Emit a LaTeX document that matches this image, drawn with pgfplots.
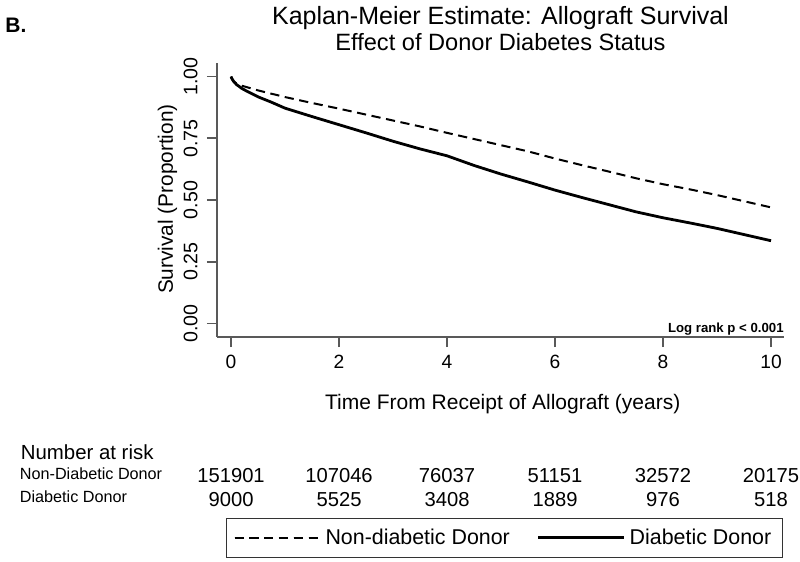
\documentclass[border=0pt]{standalone}
\usepackage{fontspec}
\setmainfont{Liberation Sans}
\usepackage{pgfplots}
\pgfplotsset{compat=1.18}
\begin{document}
\begin{tikzpicture}
\useasboundingbox (-108.5pt,-112.5pt) rectangle (291.5pt,168.5pt);
\begin{axis}[
  at={(0,0)}, anchor=south west,
  scale only axis, width=283.5pt, height=137pt,
  xmin=-0.26, xmax=10.24, ymin=-0.055, ymax=1.055,
  axis x line*=bottom, axis y line*=left,
  axis line style={draw=black!65, line width=0.85pt, -},
  every tick/.style={draw=black!65, line width=0.85pt},
  tick align=outside, major tick length=5pt,
  xtick={0,2,4,6,8,10}, ytick={0,0.25,0.5,0.75,1},
  yticklabels={0.00,0.25,0.50,0.75,1.00},
  /pgf/number format/assume math mode=true,
  xticklabel style={font=\fontsize{9.6}{11}\selectfont, anchor=north, inner sep=4pt},
  yticklabel style={font=\fontsize{9.8}{11}\selectfont, rotate=90, anchor=south, inner sep=4.5pt},
  clip=false,
  xlabel={Time From Receipt of Allograft (years)},
  xlabel style={at={(axis description cs:0.504,-0.266)}, anchor=base, font=\fontsize{10.5}{12}\selectfont},
  ylabel={Survival (Proportion)},
  ylabel style={at={(axis description cs:-0.0776,0.503)}, anchor=base, rotate=0, font=\fontsize{10.4}{12}\selectfont},
  legend columns=2,
  legend style={at={(axis description cs:0.0159,-0.6606)}, anchor=north west,
    draw=black!80, line width=0.5pt, inner xsep=3.5pt, inner ysep=3pt,
    font=\fontsize{10.7}{12}\selectfont,
    /tikz/every even column/.append style={column sep=11.5pt}},
  legend image code/.code={\path (0pt,0pt) -- (43pt,0pt); \draw[#1] (0pt,0pt) -- (38.5pt,0pt);},
]
\addplot[black, line width=1.0pt, dash pattern=on 4.6pt off 2.8pt] coordinates {
(0,1.0)(0.02,0.99)(0.05,0.98)(0.1,0.972)(0.2,0.963)(0.5,0.944)(1,0.917)(1.5,0.893)
(2,0.870)(2.5,0.846)(3,0.822)(3.5,0.798)(4,0.772)(4.5,0.747)(5,0.722)(5.5,0.697)
(6,0.668)(6.5,0.641)(7,0.615)(7.5,0.588)(8,0.564)(8.5,0.543)(9,0.520)(9.5,0.495)(10,0.470)};
\addlegendentry{Non-diabetic Donor}
\addplot[black, line width=1.4pt] coordinates {
(0,1.0)(0.02,0.99)(0.05,0.98)(0.1,0.968)(0.2,0.952)(0.3,0.94)(0.5,0.918)(0.75,0.896)
(1,0.872)(1.5,0.838)(2,0.805)(2.5,0.772)(3,0.738)(3.5,0.707)(4,0.679)(4.5,0.640)
(5,0.605)(5.5,0.573)(6,0.540)(6.5,0.510)(7,0.481)(7.5,0.452)(8,0.428)(8.5,0.407)
(9,0.385)(9.5,0.360)(10,0.335)};
\addlegendentry{Diabetic Donor}

\node[anchor=base, font=\fontsize{12.5}{14}\selectfont] at (axis description cs:0.5,1.142) {Kaplan-Meier Estimate: Allograft Survival};
\node[anchor=base, font=\fontsize{11.8}{14}\selectfont] at (axis description cs:0.5,1.047) {Effect of Donor Diabetes Status};
\node[anchor=base west, inner sep=0pt, font=\fontsize{10.5}{12}\selectfont\bfseries] at (axis description cs:-0.3739,1.1095) {B.};
\node[anchor=base east, inner sep=0pt, font=\fontsize{6.6}{7}\selectfont\bfseries] at (axis description cs:1.0,0.018) {Log rank p < 0.001};

\node[anchor=base west, inner sep=0pt, font=\fontsize{10.2}{12}\selectfont] at (axis description cs:-0.3466,-0.4453) {Number at risk};
\node[anchor=base west, inner sep=0pt, font=\fontsize{8.1}{10}\selectfont] at (axis description cs:-0.3483,-0.5219) {Non-Diabetic Donor};
\node[anchor=base west, inner sep=0pt, font=\fontsize{8.1}{10}\selectfont] at (axis description cs:-0.3483,-0.6022) {Diabetic Donor};

\node[anchor=base, inner sep=0pt, font=\fontsize{10.1}{12}\selectfont] at ({axis cs:0,0} |- {axis description cs:0,-0.5328}) {151901};
\node[anchor=base, inner sep=0pt, font=\fontsize{10.1}{12}\selectfont] at ({axis cs:2,0} |- {axis description cs:0,-0.5328}) {107046};
\node[anchor=base, inner sep=0pt, font=\fontsize{10.1}{12}\selectfont] at ({axis cs:4,0} |- {axis description cs:0,-0.5328}) {76037};
\node[anchor=base, inner sep=0pt, font=\fontsize{10.1}{12}\selectfont] at ({axis cs:6,0} |- {axis description cs:0,-0.5328}) {51151};
\node[anchor=base, inner sep=0pt, font=\fontsize{10.1}{12}\selectfont] at ({axis cs:8,0} |- {axis description cs:0,-0.5328}) {32572};
\node[anchor=base, inner sep=0pt, font=\fontsize{10.1}{12}\selectfont] at ({axis cs:10,0} |- {axis description cs:0,-0.5328}) {20175};
\node[anchor=base, inner sep=0pt, font=\fontsize{10.1}{12}\selectfont] at ({axis cs:0,0} |- {axis description cs:0,-0.6204}) {9000};
\node[anchor=base, inner sep=0pt, font=\fontsize{10.1}{12}\selectfont] at ({axis cs:2,0} |- {axis description cs:0,-0.6204}) {5525};
\node[anchor=base, inner sep=0pt, font=\fontsize{10.1}{12}\selectfont] at ({axis cs:4,0} |- {axis description cs:0,-0.6204}) {3408};
\node[anchor=base, inner sep=0pt, font=\fontsize{10.1}{12}\selectfont] at ({axis cs:6,0} |- {axis description cs:0,-0.6204}) {1889};
\node[anchor=base, inner sep=0pt, font=\fontsize{10.1}{12}\selectfont] at ({axis cs:8,0} |- {axis description cs:0,-0.6204}) {976};
\node[anchor=base, inner sep=0pt, font=\fontsize{10.1}{12}\selectfont] at ({axis cs:10,0} |- {axis description cs:0,-0.6204}) {518};
\end{axis}
\end{tikzpicture}
\end{document}
